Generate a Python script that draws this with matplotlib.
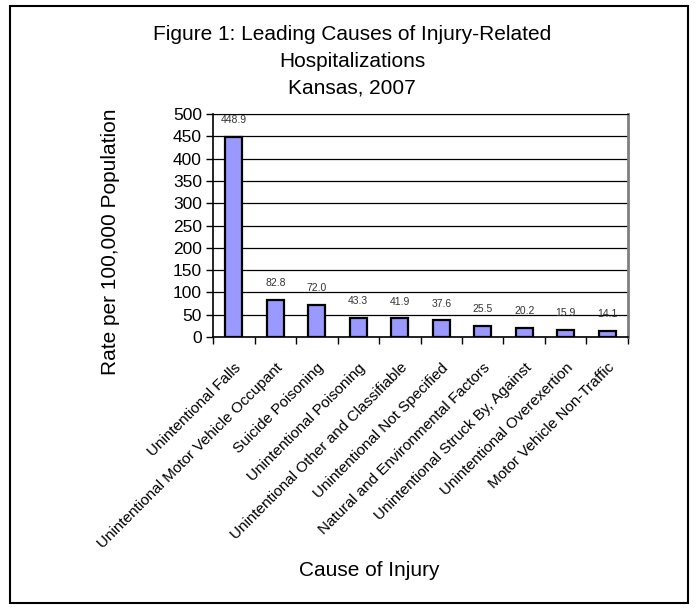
import matplotlib
matplotlib.use('Agg')
import matplotlib.pyplot as plt
from matplotlib.patches import Rectangle

causes = ['Unintentional Falls', 'Unintentional Motor Vehicle Occupant',
          'Suicide Poisoning', 'Unintentional Poisoning',
          'Unintentional Other and Classifiable', 'Unintentional Not Specified',
          'Natural and Environmental Factors', 'Unintentional Struck By, Against',
          'Unintentional Overexertion', 'Motor Vehicle Non-Traffic']
rates = [448.9, 82.8, 72.0, 43.3, 41.9, 37.6, 25.5, 20.2, 15.9, 14.1]
yticks = [0, 50, 100, 150, 200, 250, 300, 350, 400, 450, 500]

plt.rcParams['font.family'] = ['Liberation Sans', 'DejaVu Sans']

fig = plt.figure(figsize=(6.97, 6.08), dpi=100)
ax = fig.add_axes([0.3056, 0.4457, 0.5954, 0.3668])

x = list(range(len(causes)))
ax.bar(x, rates, width=0.42, color='#9999FF', edgecolor='black', linewidth=1.6, zorder=3)

for xi, v in zip(x, rates):
    ax.annotate('%.1f' % v, (xi, v), xytext=(0, 12), textcoords='offset points',
                ha='center', va='center', fontsize=7.5, color='#333333')

ax.set_xlim(-0.5, len(causes) - 0.5)
ax.set_ylim(0, 500)
ax.set_yticks(yticks)
ax.yaxis.grid(True, color='black', linewidth=0.9, zorder=0)
ax.tick_params(axis='y', labelsize=12.5, length=5, width=1, direction='out', pad=3)

# labels at bar centres, tick marks between bars
ax.set_xticks(x)
ax.set_xticklabels(causes, rotation=45, ha='right', rotation_mode='anchor', fontsize=11)
ax.tick_params(axis='x', which='major', length=0, pad=17)
ax.set_xticks([i + 0.5 for i in range(-1, len(causes))], minor=True)
ax.tick_params(axis='x', which='minor', length=5, width=1, direction='out')

for s in ['left', 'bottom']:
    ax.spines[s].set_color('black')
    ax.spines[s].set_linewidth(1.2)
ax.spines['top'].set_color('black')
ax.spines['right'].set_color('#808080')
ax.spines['right'].set_linewidth(2)

fig.text(0.505, 0.899, 'Figure 1: Leading Causes of Injury-Related\nHospitalizations\nKansas, 2007',
         ha='center', va='center', ma='center', fontsize=15, linespacing=1.5)
fig.text(0.159, 0.602, 'Rate per 100,000 Population', rotation=90,
         ha='center', va='center', fontsize=15)
fig.text(0.53, 0.061, 'Cause of Injury', ha='center', va='center', fontsize=15)

fig.patches.append(Rectangle((0.014, 0.008), 0.973, 0.982, transform=fig.transFigure,
                             fill=False, edgecolor='black', linewidth=1.5))

fig.savefig('out.png', dpi=100)
